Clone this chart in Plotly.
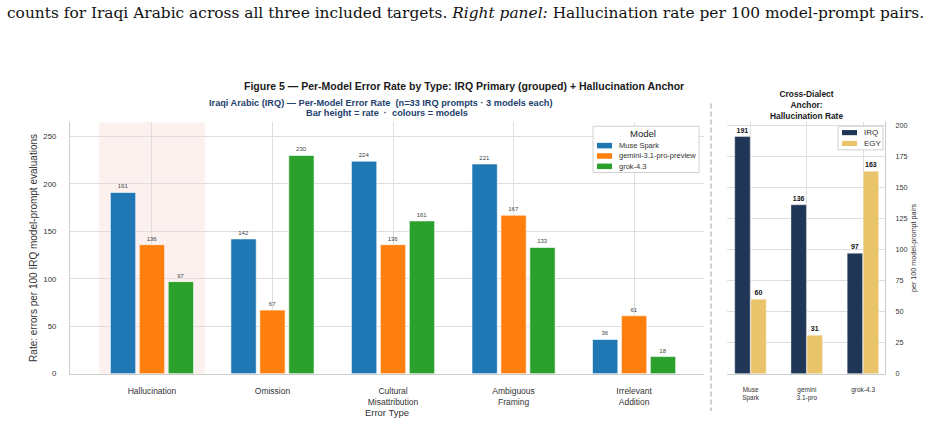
import plotly.graph_objects as go

W, H = 932, 423

# ---------------- data ----------------
error_types = ["Hallucination", "Omission", "Cultural Misattribution", "Ambiguous Framing", "Irrelevant Addition"]
error_type_labels = ["Hallucination", "Omission", "Cultural<br>Misattribution", "Ambiguous<br>Framing", "Irrelevant<br>Addition"]
models = ["Muse Spark", "gemini-3.1-pro-preview", "grok-4.3"]
muse_spark_rates = [191, 142, 224, 221, 36]
gemini_rates = [136, 67, 136, 167, 61]
grok_rates = [97, 230, 161, 133, 18]

anchor_models = ["Muse Spark", "gemini-3.1-pro", "grok-4.3"]
anchor_labels = ["Muse<br>Spark", "gemini<br>3.1-pro", "grok-4.3"]
dialects = ["IRQ", "EGY"]
irq_halluc = [191, 136, 97]
egy_halluc = [60, 31, 163]

left_yticks = [0, 50, 100, 150, 200, 250]
right_yticks = [0, 25, 50, 75, 100, 125, 150, 175, 200]

# ---------------- styles ----------------
FONT = "Liberation Sans, Arial, sans-serif"
model_colors = ["#1f77b4", "#ff7f0e", "#2ca02c"]
dialect_colors = ["#1f3657", "#e9c46a"]
GRID = "#dedede"
SPINE = "#cccccc"
TXT = "#333333"
SUB = "#233f6e"


def px(x):
    return x / W


def py(y):
    return 1 - y / H


fig = go.Figure()

# left panel bars
left_series = [muse_spark_rates, gemini_rates, grok_rates]
bw = 0.21
for j, (name, vals) in enumerate(zip(models, left_series)):
    fig.add_trace(go.Bar(
        x=error_types, y=vals, name=name,
        offset=(j - 1) * 0.24 - bw / 2, width=bw,
        marker=dict(color=model_colors[j], line=dict(color="white", width=0.6)),
        text=vals, textposition="outside", cliponaxis=False, constraintext="none",
        textfont=dict(size=6, color="#444444", family=FONT),
        xaxis="x", yaxis="y", showlegend=False,
    ))

# right panel bars
right_series = [irq_halluc, egy_halluc]
rbw = 0.275
right_centers = [-0.145, 0.14]
for j, (name, vals) in enumerate(zip(dialects, right_series)):
    fig.add_trace(go.Bar(
        x=anchor_models, y=vals, name=name,
        offset=right_centers[j] - rbw / 2, width=rbw,
        marker=dict(color=dialect_colors[j], line=dict(color="white", width=0.4)),
        text=vals, texttemplate="<b>%{y}</b>", textposition="outside",
        cliponaxis=False, constraintext="none",
        textfont=dict(size=7, color="#111111", family=FONT),
        xaxis="x2", yaxis="y2", showlegend=False,
    ))

shapes = [
    # hallucination highlight band
    dict(type="rect", xref="x", yref="y domain", x0=-0.44, x1=0.44, y0=0, y1=1,
         fillcolor="rgba(231,76,60,0.08)", line=dict(width=0), layer="below"),
    # dashed separator
    dict(type="line", xref="paper", yref="paper", x0=px(711), x1=px(711), y0=py(104), y1=py(416),
         line=dict(color="#bdbdbd", width=1.4, dash="5px,3px")),
]

annotations = [
    dict(text="counts for Iraqi Arabic across all three included targets. <i>Right panel:</i> Hallucination rate per 100 model-prompt pairs.",
         x=px(5), y=py(12), xref="paper", yref="paper", xanchor="left", yanchor="middle",
         showarrow=False, font=dict(family="DejaVu Serif, Liberation Serif, serif", size=15.4, color="#111111")),
    dict(text="<b>Figure 5 — Per-Model Error Rate by Type: IRQ Primary (grouped) + Hallucination Anchor</b>",
         x=px(464), y=py(86), xref="paper", yref="paper", xanchor="center", yanchor="middle",
         showarrow=False, font=dict(family=FONT, size=10.5, color="#1a1a1a")),
    dict(text="<b>Iraqi Arabic (IRQ) — Per-Model Error Rate \u00a0(n=33 IRQ prompts · 3 models each)</b>",
         x=px(381), y=py(103.3), xref="paper", yref="paper", xanchor="center", yanchor="middle",
         showarrow=False, font=dict(family=FONT, size=9.2, color=SUB)),
    dict(text="<b>Bar height = rate \u00a0· \u00a0colours = models</b>",
         x=px(386.5), y=py(113.5), xref="paper", yref="paper", xanchor="center", yanchor="middle",
         showarrow=False, font=dict(family=FONT, size=9.2, color=SUB)),
    dict(text="<b>Cross-Dialect<br>Anchor:<br>Hallucination Rate</b>",
         x=px(806.5), y=py(105), xref="paper", yref="paper", xanchor="center", yanchor="middle",
         showarrow=False, align="center", font=dict(family=FONT, size=8.4, color="#1a1a1a")),
]

# left legend
shapes.append(dict(type="rect", xref="paper", yref="paper", x0=px(593), x1=px(699), y0=py(174), y1=py(127),
                   fillcolor="rgba(255,255,255,0.9)", line=dict(color="#d0d0d0", width=1)))
annotations.append(dict(text="Model", x=px(643), y=py(134.5), xref="paper", yref="paper",
                        xanchor="center", yanchor="middle", showarrow=False,
                        font=dict(family=FONT, size=9.5, color="#222222")))
for i, name in enumerate(models):
    yc = 146.7 + 10.5 * i
    shapes.append(dict(type="rect", xref="paper", yref="paper", x0=px(597), x1=px(612),
                       y0=py(yc + 2.8), y1=py(yc - 2.8), fillcolor=model_colors[i], line=dict(width=0)))
    annotations.append(dict(text=name, x=px(617), y=py(yc), xref="paper", yref="paper",
                            xanchor="left", yanchor="middle", showarrow=False,
                            font=dict(family=FONT, size=7.5, color=TXT)))

# right legend
shapes.append(dict(type="rect", xref="paper", yref="paper", x0=px(838), x1=px(883), y0=py(151), y1=py(127),
                   fillcolor="rgba(255,255,255,0.9)", line=dict(color="#d0d0d0", width=1)))
for i, name in enumerate(dialects):
    yc = 133.5 + 11 * i
    shapes.append(dict(type="rect", xref="paper", yref="paper", x0=px(842), x1=px(857),
                       y0=py(yc + 2.6), y1=py(yc - 2.6), fillcolor=dialect_colors[i], line=dict(width=0)))
    annotations.append(dict(text=name, x=px(861.5), y=py(yc), xref="paper", yref="paper",
                            xanchor="left", yanchor="middle", showarrow=False,
                            font=dict(family=FONT, size=8, color=TXT)))

fig.update_layout(
    width=W, height=H, autosize=False,
    margin=dict(l=0, r=0, t=0, b=0),
    paper_bgcolor="white", plot_bgcolor="white",
    font=dict(family=FONT, color=TXT),
    barmode="group",
    shapes=shapes, annotations=annotations,
    xaxis=dict(domain=[px(70), px(704)], anchor="y", type="category",
               range=[-0.68, 4.58], tickvals=error_types, ticktext=error_type_labels,
               tickfont=dict(size=8.5, color=TXT), ticks="", ticklabelstandoff=9,
               showgrid=True, gridcolor=GRID, gridwidth=1,
               showline=True, linecolor=SPINE, linewidth=1.2, zeroline=False,
               title=dict(text="Error Type", font=dict(size=9.5, color=TXT), standoff=1)),
    yaxis=dict(domain=[py(378), py(123)], anchor="x", range=[0, 265],
               tickvals=left_yticks, tickfont=dict(size=7.8, color=TXT),
               ticks="outside", ticklen=10, tickcolor="rgba(0,0,0,0)", ticklabelstandoff=1,
               showgrid=True, gridcolor=GRID, gridwidth=1,
               showline=True, linecolor=SPINE, linewidth=1.2, zeroline=False,
               title=dict(text="Rate: errors per 100 IRQ model-prompt evaluations",
                          font=dict(size=10, color=TXT), standoff=3)),
    xaxis2=dict(domain=[px(727), px(885)], anchor="y2", type="category",
                range=[-0.42, 2.39], tickvals=anchor_models, ticktext=anchor_labels,
                tickfont=dict(size=6.5, color=TXT), ticks="", ticklabelstandoff=9,
                showgrid=True, gridcolor=GRID, gridwidth=1,
                showline=True, linecolor=SPINE, linewidth=1.2, zeroline=False),
    yaxis2=dict(domain=[py(378), py(123)], anchor="x2", side="right", range=[0, 202.5],
                tickvals=right_yticks, tickfont=dict(size=7.2, color=TXT), ticks="", ticklabelstandoff=8,
                showgrid=True, gridcolor=GRID, gridwidth=1,
                showline=True, linecolor=SPINE, linewidth=1.2, zeroline=False,
                title=dict(text="per 100 model-prompt pairs", font=dict(size=7.2, color=TXT), standoff=4)),
)

fig.write_html("out.html")
